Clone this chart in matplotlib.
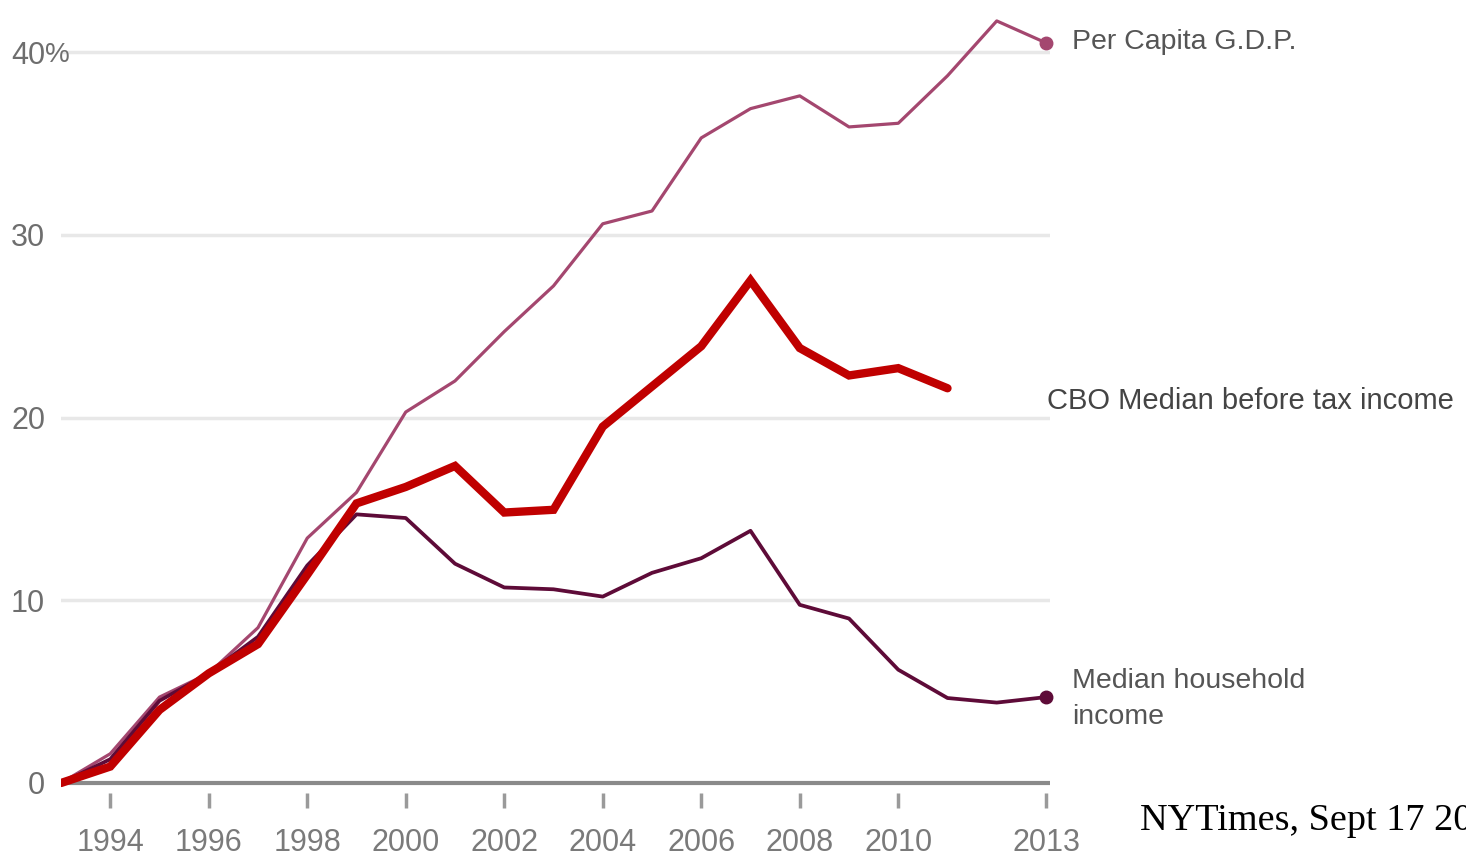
import numpy as np
import matplotlib
matplotlib.use("Agg")
import matplotlib.pyplot as plt

plt.rcParams['font.family'] = ['Liberation Sans', 'DejaVu Sans']

# cumulative change since 1993, in percent
years = np.arange(1993, 2014)
gdp_per_capita = [0, 1.6, 4.7, 6.0, 8.5, 13.4, 15.9, 20.3, 22.0, 24.7, 27.2, 30.6,
                  31.3, 35.3, 36.9, 37.6, 35.9, 36.1, 38.7, 41.7, 40.5]
median_household = [0, 1.3, 4.5, 6.0, 8.0, 11.9, 14.7, 14.5, 12.0, 10.7, 10.6, 10.2,
                    11.5, 12.3, 13.8, 9.75, 9.0, 6.2, 4.65, 4.4, 4.7]
cbo_years = np.arange(1993, 2012)
cbo_median = [0, 0.9, 4.0, 6.0, 7.6, 11.4, 15.3, 16.2, 17.35, 14.8, 14.95, 19.5,
              21.7, 23.9, 27.5, 23.8, 22.3, 22.7, 21.6]

xtick_years = [1994, 1996, 1998, 2000, 2002, 2004, 2006, 2008, 2010, 2013]
ytick_vals = [0, 10, 20, 30, 40]

gdp_color = '#a4476f'
hh_color = '#5e0b38'
cbo_color = '#c00000'

W, H = 1466, 858
fig = plt.figure(figsize=(W / 100, H / 100), dpi=100)
# 1993 -> 61px, 2013 -> 1046px ; 0 -> 783px, 40 -> 52px
x0, x1 = 1993, 2013.08
y0, y1 = -1, 43
px_year = (1046 - 61) / 20
px_unit = (783 - 52) / 40
left = 61
right = 61 + (x1 - x0) * px_year
bottom = 783 + (0 - y0) * px_unit
top = 783 - y1 * px_unit
ax = fig.add_axes([left / W, (H - bottom) / H, (right - left) / W, (bottom - top) / H])
ax.set_xlim(x0, x1)
ax.set_ylim(y0, y1)

for v in ytick_vals[1:]:
    ax.axhline(v, color='#e8e8e8', lw=2.5, zorder=0)
ax.axhline(0, color='#8a8a8a', lw=3, zorder=1)

ax.plot(years, gdp_per_capita, color=gdp_color, lw=2.3, zorder=3)
ax.plot(years, median_household, color=hh_color, lw=2.7, zorder=3)
ax.plot(cbo_years, cbo_median, color=cbo_color, lw=6, zorder=4,
        solid_capstyle='round', solid_joinstyle='miter')
ax.plot(years[-1], gdp_per_capita[-1], 'o', color=gdp_color, ms=9, zorder=5, clip_on=False)
ax.plot(years[-1], median_household[-1], 'o', color=hh_color, ms=9, zorder=5, clip_on=False)

for s in ax.spines.values():
    s.set_visible(False)
ax.spines['bottom'].set_position(('data', (783 - 793) / px_unit))

ax.set_xticks(xtick_years)
ax.set_xticklabels([str(y) for y in xtick_years])
ax.tick_params(axis='x', direction='out', length=11, width=2.5, color='#9a9a9a',
               pad=14, labelsize=22, labelcolor='#7a7a7a')
ax.set_yticks(ytick_vals)
ax.set_yticklabels([str(v) for v in ytick_vals])
ax.tick_params(axis='y', length=0, pad=11.5, labelsize=22, labelcolor='#6e6e6e')
ax.text(1993 - 16 / px_year, 40, '%', ha='left', va='center_baseline', fontsize=20,
        color='#6e6e6e', clip_on=False)

ax.text(2013 + 26 / px_year, 40.55, 'Per Capita G.D.P.', ha='left', va='center',
        fontsize=20.5, color='#555555', clip_on=False)
ax.text(2013 + 26 / px_year, (783 - 699) / px_unit, 'Median household\nincome', ha='left',
        va='center', fontsize=20.5, color='#555555', linespacing=1.45, clip_on=False)
ax.text(2013 + 1 / px_year, (783 - 401) / px_unit, 'CBO Median before tax income',
        ha='left', va='center', fontsize=21, color='#444444', clip_on=False)

# source note, runs off the right edge as in the original
fig.text(1140 / W, (H - 830) / H, 'NYTimes, Sept 17 2014', ha='left', va='baseline',
         fontsize=27.5, color='black', family=['Liberation Serif', 'DejaVu Serif'])

fig.savefig('out.png', dpi=100, facecolor='white')
